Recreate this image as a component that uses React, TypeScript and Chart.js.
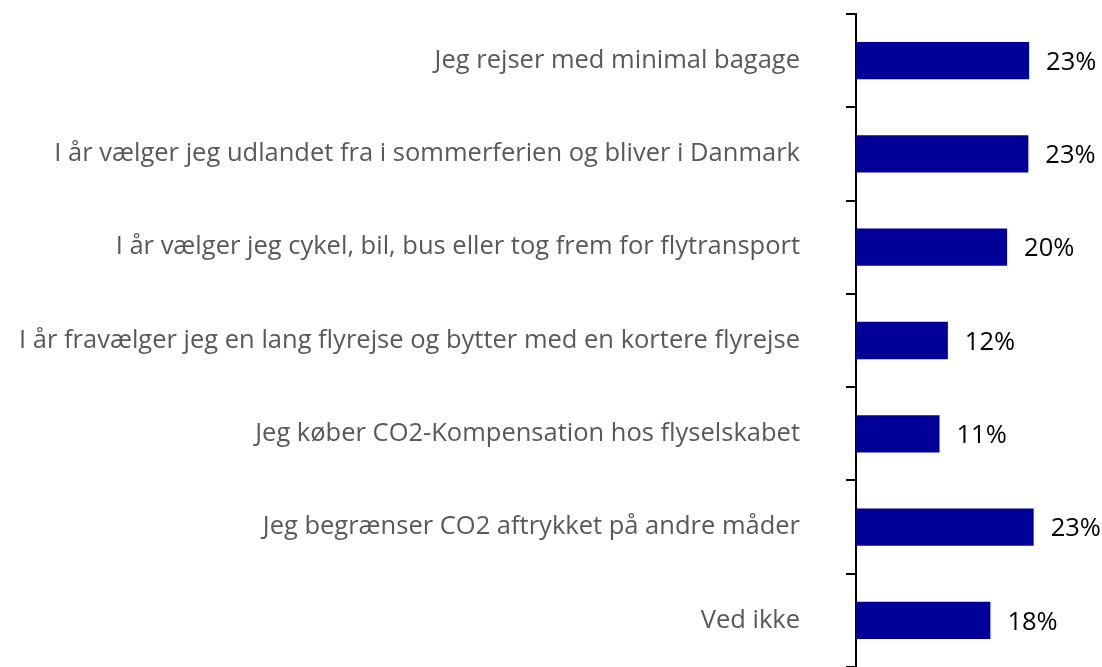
import React, { useEffect, useRef } from "react";
import { Chart, registerables } from "chart.js";

Chart.register(...registerables);

const categories: string[] = [
  "Jeg rejser med minimal bagage",
  "I år vælger jeg udlandet fra i sommerferien og bliver i Danmark",
  "I år vælger jeg cykel, bil, bus eller tog frem for flytransport",
  "I år fravælger jeg en lang flyrejse og bytter med en kortere flyrejse",
  "Jeg køber CO2-Kompensation hos flyselskabet",
  "Jeg begrænser CO2 aftrykket på andre måder",
  "Ved ikke",
];
const values: number[] = [22.8, 22.7, 19.9, 12.1, 11.0, 23.4, 17.7];
const valueLabels: string[] = ["23%", "23%", "20%", "12%", "11%", "23%", "18%"];

const FONT = "'Open Sans'";

const valueLabelPlugin = {
  id: "valueLabels",
  afterDatasetsDraw(chart: any) {
    const ctx = chart.ctx;
    const meta = chart.getDatasetMeta(0);
    ctx.save();
    ctx.font = `25.5px ${FONT}`;
    ctx.fillStyle = "#000000";
    ctx.textAlign = "left";
    ctx.textBaseline = "middle";
    meta.data.forEach((bar: any, i: number) => {
      ctx.fillText(valueLabels[i], bar.x + 17, bar.y + 2);
    });
    ctx.restore();
  },
};

export default function App() {
  const ref = useRef<HTMLCanvasElement | null>(null);
  useEffect(() => {
    if (!ref.current) return;
    const chart = new Chart(ref.current, {
      type: "bar",
      data: {
        labels: categories,
        datasets: [
          {
            data: values,
            backgroundColor: "#000099",
            borderWidth: 0,
            categoryPercentage: 1,
            barPercentage: 0.4,
          },
        ],
      },
      options: {
        indexAxis: "y",
        animation: false,
        responsive: false,
        maintainAspectRatio: false,
        layout: { padding: { top: 14, right: 0, bottom: 0, left: 0 } },
        plugins: {
          legend: { display: false },
          tooltip: { enabled: false },
        },
        scales: {
          x: {
            display: false,
            min: 0,
            max: 32.4,
          },
          y: {
            afterFit(scale: any) {
              scale.width = 856;
              scale.paddingTop = 0;
              scale.paddingBottom = 0;
            },
            grid: {
              offset: true,
              drawOnChartArea: false,
              drawTicks: true,
              tickLength: 10,
              color: "#000000",
              lineWidth: 2,
            },
            border: { display: true, color: "#000000", width: 2 },
            ticks: {
              color: "#595959",
              padding: 46,
              font: { family: "'Open Sans'", size: 25.5 },
            },
          },
        },
      },
      plugins: [valueLabelPlugin],
    });
    return () => chart.destroy();
  }, []);
  return (
    <div style={{ position: "fixed", left: 0, top: 0, width: 1102, height: 667, background: "#fff" }}>
      <canvas ref={ref} width={1102} height={667} />
    </div>
  );
}
